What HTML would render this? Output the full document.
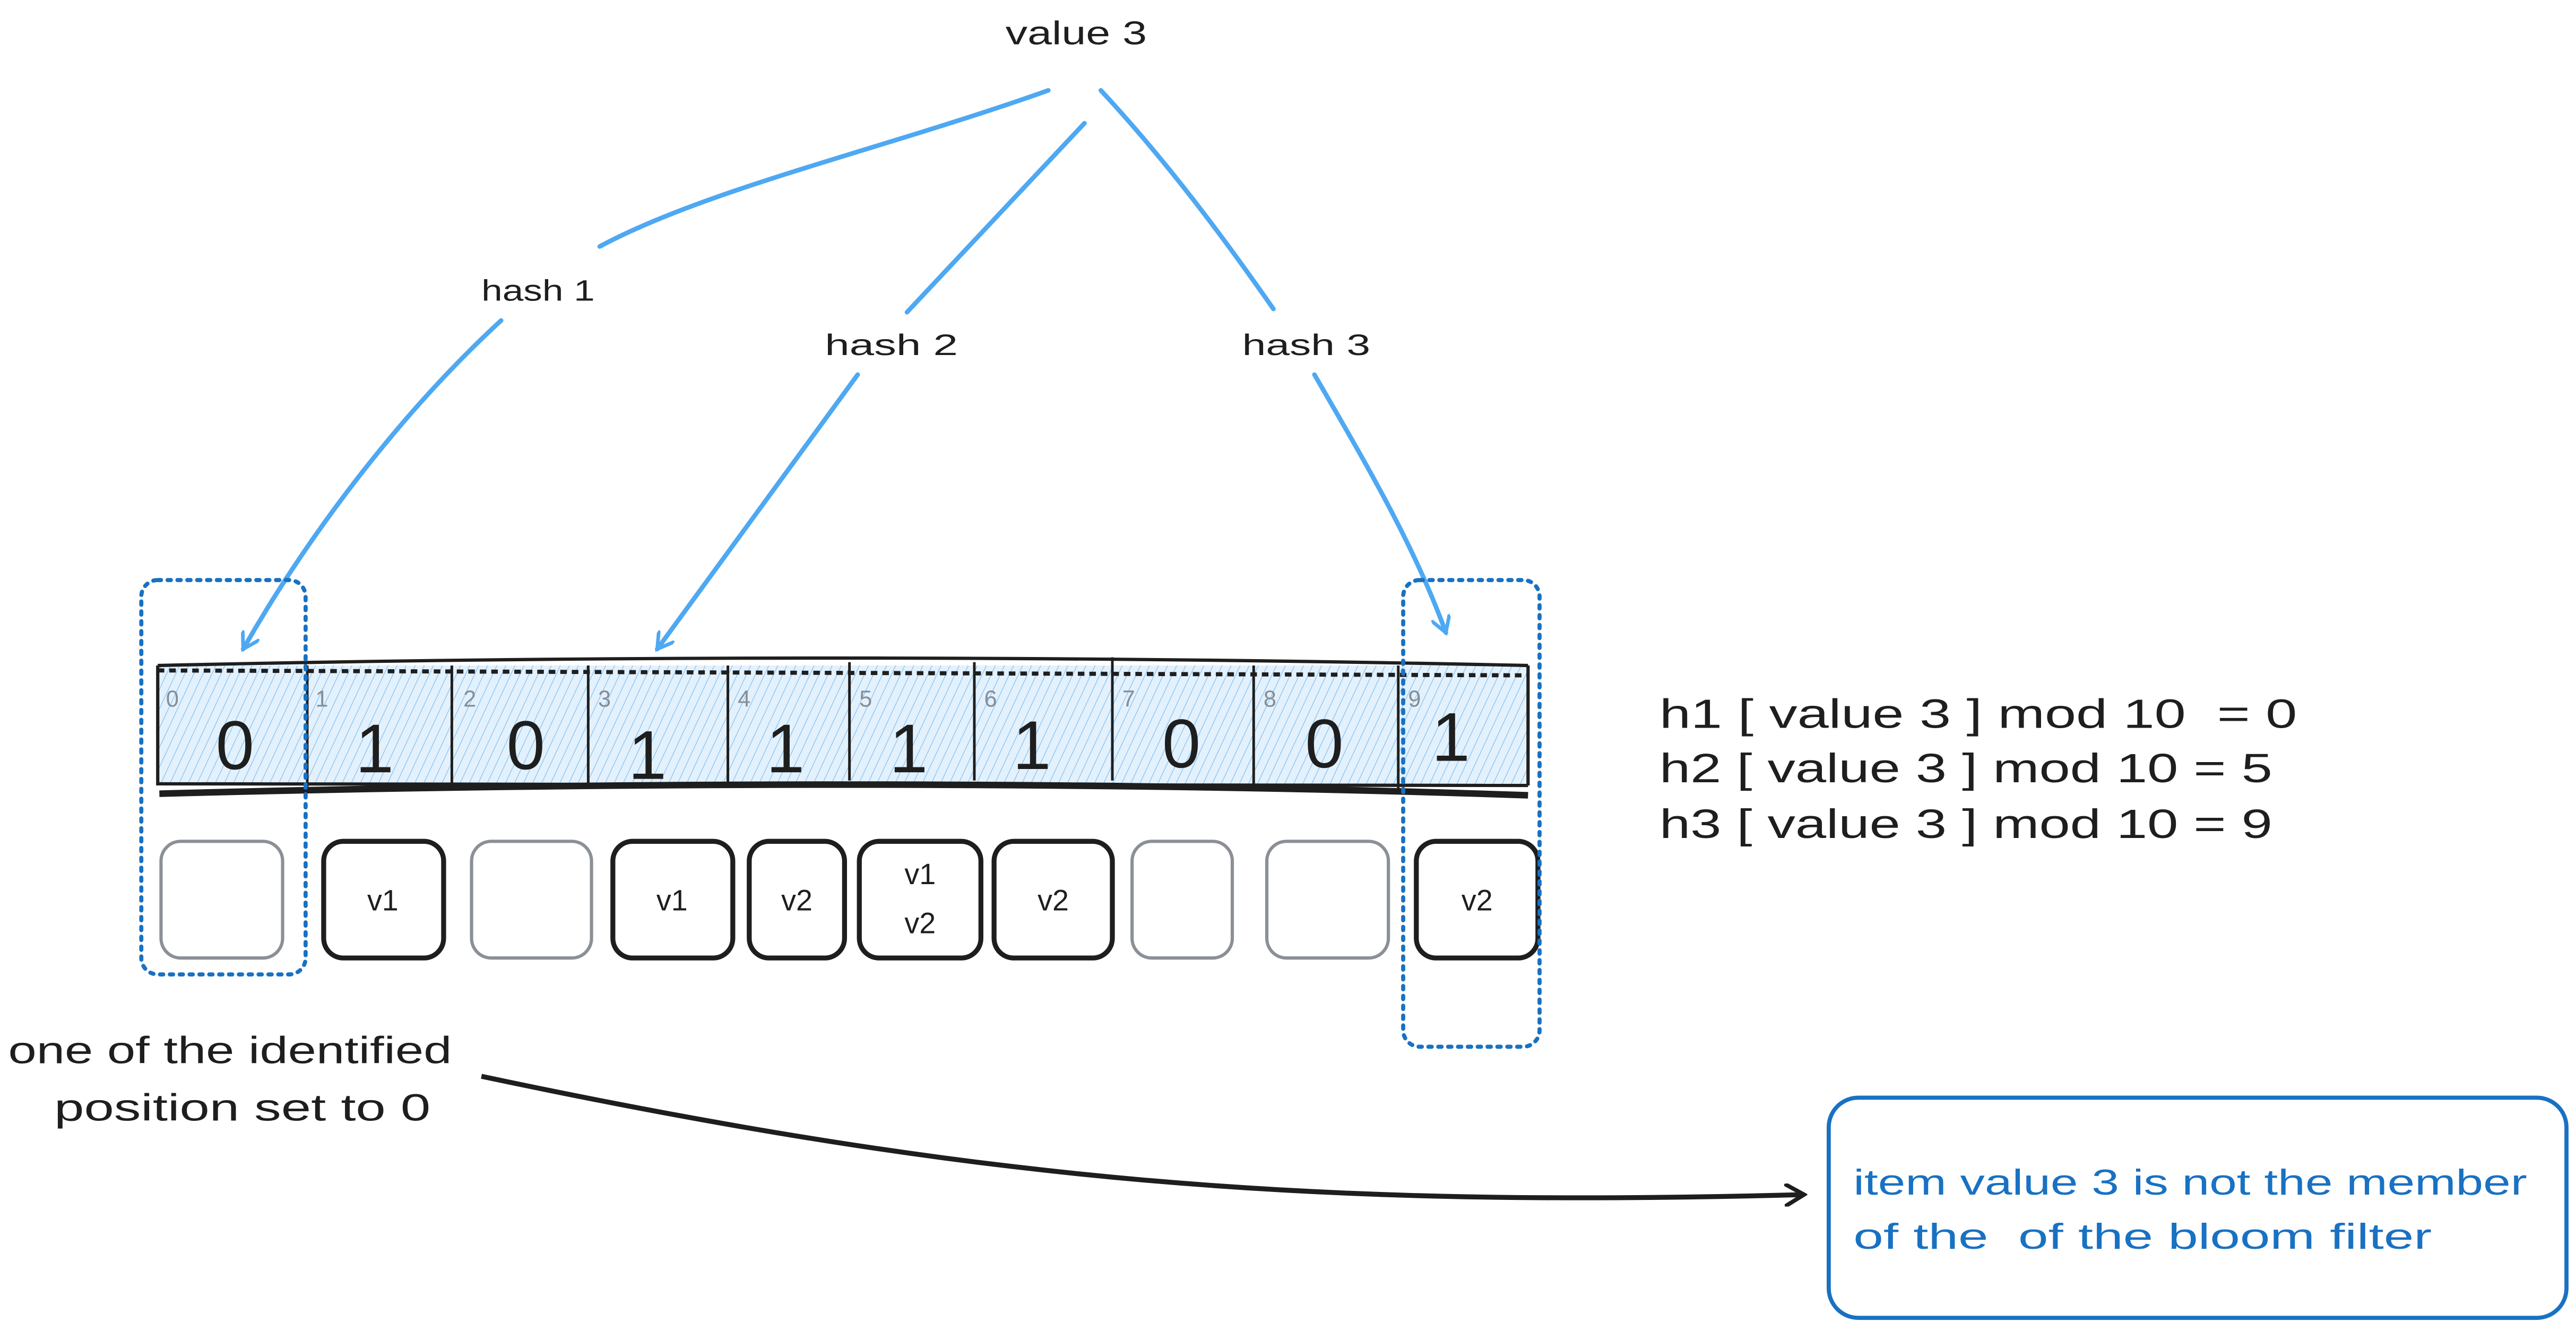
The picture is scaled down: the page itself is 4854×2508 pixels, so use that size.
<!DOCTYPE html>
<html><head><meta charset="utf-8"><style>
html,body{margin:0;padding:0;background:#fff;}
svg{display:block;}
text{font-family:"Liberation Sans","DejaVu Sans",sans-serif;}
</style></head><body>
<svg width="4854" height="2508" viewBox="0 0 1567.8 810" preserveAspectRatio="none" xmlns="http://www.w3.org/2000/svg">
<defs>
<pattern id="h" width="5" height="5" patternUnits="userSpaceOnUse" patternTransform="rotate(25)">
<rect width="5" height="5" fill="#e3f1fd"/>
<line x1="0" y1="0" x2="0" y2="5" stroke="#8cc6f2" stroke-width="0.9"/>
</pattern>
<marker id="ab" markerWidth="12" markerHeight="12" refX="10" refY="6" orient="auto" markerUnits="userSpaceOnUse">
<path d="M0,0 L10,6 L0,12" fill="none" stroke="#4ea8f2" stroke-width="2.2"/>
</marker>
<marker id="ak" markerWidth="14" markerHeight="14" refX="12" refY="7" orient="auto" markerUnits="userSpaceOnUse">
<path d="M0,0 L12,7 L0,14" fill="none" stroke="#1e1e1e" stroke-width="2.5"/>
</marker>
</defs>

<text x="612" y="27" font-size="20" textLength="86" lengthAdjust="spacingAndGlyphs" fill="#1e1e1e">value 3</text>

<g fill="none" stroke="#4ea8f2" stroke-width="2.8" stroke-linecap="round">
<path d="M638,55 C540,90 430,115 365,150"/>
<path d="M305,195 C240,255 185,330 148,395" marker-end="url(#ab)"/>
<path d="M660,75 C620,118 585,155 552,190"/>
<path d="M522,228 C480,285 440,340 400,395" marker-end="url(#ab)"/>
<path d="M670,55 C710,98 745,145 775,188"/>
<path d="M800,228 C830,280 860,330 880,385" marker-end="url(#ab)"/>
</g>
<text x="293" y="183" font-size="18" textLength="69" lengthAdjust="spacingAndGlyphs" fill="#1e1e1e">hash 1</text>
<text x="502" y="216" font-size="18" textLength="81" lengthAdjust="spacingAndGlyphs" fill="#1e1e1e">hash 2</text>
<text x="756" y="216" font-size="18" textLength="78" lengthAdjust="spacingAndGlyphs" fill="#1e1e1e">hash 3</text>

<rect x="96" y="405" width="834" height="73" fill="url(#h)"/>
<path d="M96,405 C400,398 700,400 930,405" stroke="#1e1e1e" stroke-width="2" fill="none"/>
<path d="M96,408 L930,411" stroke="#1e1e1e" stroke-width="2.5" stroke-dasharray="4,3" fill="none"/>
<path d="M96,477 L930,478" stroke="#1e1e1e" stroke-width="2" fill="none"/>
<path d="M97,483 C400,475 700,476 930,484" stroke="#1e1e1e" stroke-width="4" fill="none"/>
<path d="M96,405 L96,478 M930,405 L930,478" stroke="#1e1e1e" stroke-width="2"/>
<g stroke="#1e1e1e" stroke-width="1.6">
<line x1="187" y1="405" x2="187" y2="480"/><line x1="275" y1="405" x2="275" y2="478"/>
<line x1="358" y1="405" x2="358" y2="478"/><line x1="443" y1="405" x2="443" y2="478"/>
<line x1="517" y1="403" x2="517" y2="475"/><line x1="593" y1="403" x2="593" y2="475"/>
<line x1="677" y1="400" x2="677" y2="475"/><line x1="763" y1="405" x2="763" y2="478"/>
<line x1="851" y1="405" x2="851" y2="480"/>
</g>
<g font-size="14" fill="#868e96">
<text x="101" y="430">0</text><text x="192" y="430">1</text><text x="282" y="430">2</text>
<text x="364" y="430">3</text><text x="449" y="430">4</text><text x="523" y="430">5</text>
<text x="599" y="430">6</text><text x="683" y="430">7</text><text x="769" y="430">8</text><text x="857" y="430">9</text>
</g>
<g font-size="42" fill="#1e1e1e" text-anchor="middle">
<text x="143" y="468">0</text><text x="228" y="470">1</text><text x="320" y="468">0</text>
<text x="394" y="474">1</text><text x="478" y="470">1</text><text x="553" y="470">1</text>
<text x="628" y="468">1</text><text x="719" y="467">0</text><text x="806" y="467">0</text><text x="883" y="463">1</text>
</g>

<g fill="none" stroke-width="2">
<rect x="98" y="512" width="74" height="71" rx="12" stroke="#8b9096"/>
<rect x="197" y="512" width="73" height="71" rx="12" stroke="#1e1e1e" stroke-width="3"/>
<rect x="287" y="512" width="73" height="71" rx="12" stroke="#8b9096"/>
<rect x="373" y="512" width="73" height="71" rx="12" stroke="#1e1e1e" stroke-width="3"/>
<rect x="456" y="512" width="58" height="71" rx="12" stroke="#1e1e1e" stroke-width="3"/>
<rect x="523" y="512" width="74" height="71" rx="12" stroke="#1e1e1e" stroke-width="3"/>
<rect x="605" y="512" width="72" height="71" rx="12" stroke="#1e1e1e" stroke-width="3"/>
<rect x="689" y="512" width="61" height="71" rx="12" stroke="#8b9096"/>
<rect x="771" y="512" width="74" height="71" rx="12" stroke="#8b9096"/>
<rect x="862" y="512" width="74" height="71" rx="12" stroke="#1e1e1e" stroke-width="3"/>
</g>
<g font-size="18" fill="#1e1e1e" text-anchor="middle">
<text x="233" y="554">v1</text><text x="409" y="554">v1</text><text x="485" y="554">v2</text>
<text x="560" y="538">v1</text><text x="560" y="568">v2</text><text x="641" y="554">v2</text>
<text x="899" y="554">v2</text>
</g>

<rect x="86" y="353" width="100" height="240" rx="10" fill="none" stroke="#1971c2" stroke-width="2.5" stroke-dasharray="2,4" stroke-linecap="round"/>
<rect x="854" y="353" width="83" height="284" rx="10" fill="none" stroke="#1971c2" stroke-width="2.5" stroke-dasharray="2,4" stroke-linecap="round"/>

<g font-size="25" fill="#1e1e1e">
<text x="1010" y="443" textLength="388" lengthAdjust="spacingAndGlyphs">h1 [ value 3 ] mod 10 &#160;= 0</text>
<text x="1010" y="476" textLength="373" lengthAdjust="spacingAndGlyphs">h2 [ value 3 ] mod 10 = 5</text>
<text x="1010" y="510" textLength="373" lengthAdjust="spacingAndGlyphs">h3 [ value 3 ] mod 10 = 9</text>
</g>

<g font-size="23" fill="#1e1e1e">
<text x="5" y="647" textLength="270" lengthAdjust="spacingAndGlyphs">one of the identified</text>
<text x="33" y="682" textLength="229" lengthAdjust="spacingAndGlyphs">position set to 0</text>
</g>
<path d="M293,655 C600,720 800,735 1098,727" fill="none" stroke="#1e1e1e" stroke-width="3" marker-end="url(#ak)"/>

<rect x="1113" y="668" width="449" height="134" rx="18" fill="none" stroke="#1971c2" stroke-width="2.5"/>
<g font-size="22" fill="#1971c2">
<text x="1128" y="727" textLength="410" lengthAdjust="spacingAndGlyphs">item value 3 is not the member</text>
<text x="1128" y="760" textLength="352" lengthAdjust="spacingAndGlyphs">of the &#160;of the bloom filter</text>
</g>
</svg>
</body></html>
